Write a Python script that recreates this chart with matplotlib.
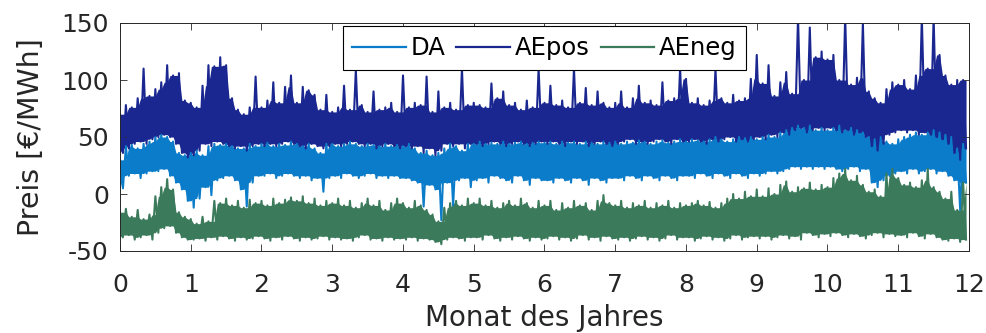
import numpy as np
import matplotlib
matplotlib.use("Agg")
import matplotlib.pyplot as plt

# ---- data: envelope values, 12 per month ----
aepos_hi = [70, 78, 76, 84, 110, 86, 92, 98, 113, 104, 106, 82,
            80, 76, 95, 113, 112, 120, 113, 84, 74, 70, 76, 103,
            76, 82, 98, 80, 94, 104, 80, 94, 91, 87, 74, 87,
            72, 76, 95, 74, 109, 78, 72, 90, 74, 76, 80, 72,
            104, 76, 80, 78, 103, 72, 90, 76, 80, 74, 110, 78,
            80, 78, 76, 97, 84, 90, 78, 80, 74, 82, 76, 110,
            80, 95, 78, 82, 76, 110, 80, 93, 78, 90, 80, 76,
            80, 90, 76, 84, 95, 80, 82, 78, 98, 82, 84, 110,
            101, 80, 84, 78, 82, 110, 84, 80, 87, 82, 84, 101,
            122, 97, 113, 86, 98, 107, 88, 155, 100, 146, 120, 125,
            118, 122, 100, 155, 96, 102, 150, 90, 84, 80, 92, 98,
            96, 100, 92, 104, 155, 110, 155, 122, 104, 96, 100, 100]
aepos_lo = [36, 40, 44, 46, 44, 48, 50, 52, 50, 44, 36, 32,
            34, 38, 44, 42, 46, 44, 42, 40, 42, 38, 42, 44,
            42, 44, 42, 44, 46, 44, 42, 40, 44, 42, 40, 42,
            44, 42, 44, 46, 44, 42, 44, 40, 42, 44, 42, 40,
            42, 40, 42, 36, 40, 34, 38, 44, 42, 44, 40, 44,
            44, 42, 44, 46, 44, 42, 44, 46, 44, 42, 44, 46,
            44, 46, 44, 42, 46, 44, 46, 42, 44, 46, 44, 42,
            44, 46, 48, 44, 46, 44, 46, 48, 46, 44, 48, 46,
            46, 48, 46, 44, 48, 46, 48, 50, 46, 48, 46, 48,
            50, 48, 52, 50, 54, 52, 56, 58, 54, 56, 58, 56,
            58, 56, 54, 56, 52, 54, 50, 42, 38, 44, 52, 54,
            56, 54, 56, 52, 54, 52, 50, 48, 44, 36, 30, 40]
da_hi = [30, 42, 43, 40, 44, 46, 50, 52, 50, 46, 36, 34,
         36, 38, 34, 42, 44, 43, 44, 42, 40, 40, 44, 42,
         44, 45, 42, 44, 43, 46, 44, 42, 44, 40, 36, 44,
         44, 42, 44, 46, 44, 42, 44, 43, 42, 44, 42, 43,
         42, 44, 40, 36, 38, 34, 36, 40, 44, 42, 38, 44,
         44, 46, 44, 45, 44, 46, 44, 45, 46, 44, 45, 46,
         45, 46, 44, 46, 45, 46, 44, 46, 45, 44, 46, 45,
         46, 44, 46, 45, 47, 46, 44, 46, 47, 45, 46, 48,
         46, 48, 47, 46, 48, 50, 48, 46, 48, 50, 49, 50,
         48, 50, 52, 50, 54, 56, 58, 60, 58, 60, 56, 58,
         56, 58, 60, 56, 58, 56, 54, 50, 48, 50, 46, 44,
         48, 50, 52, 54, 52, 54, 56, 54, 52, 50, 40, 44]
da_lo = [5, 16, 18, 14, 18, 20, 20, 22, 16, 10, 4, -6,
         -12, -4, 6, -1, 12, 14, 16, 12, 4, -11, 10, 16,
         16, 18, 14, 16, 18, 16, 14, 16, 12, 14, 2, 14,
         16, 14, 18, 16, 14, 16, 18, 14, 16, 14, 16, 14,
         14, 12, 10, -11, 8, 4, -23, 10, -10, 12, 14, 6,
         12, 14, 10, 16, 14, 12, 10, 16, 12, 8, 14, 12,
         12, 10, 14, 12, 10, 14, 12, 8, 14, 12, 10, 14,
         14, 12, 16, 14, 12, 16, 14, 12, 16, 14, 12, 16,
         16, 14, 18, 16, 14, 18, 16, 14, 18, 16, 14, 18,
         16, 18, 20, 18, 20, 22, 24, 22, 24, 22, 24, 22,
         24, 22, 20, 22, 24, 20, 22, 10, 6, 12, 16, 18,
         20, 18, 22, 18, 20, 22, 18, 20, 16, 12, -14, 10]
aeneg_hi = [-16, -13, -20, -14, -22, -18, -2, 6, 13, 4, -16, -20,
            -22, -26, -20, -24, -6, -8, -4, -10, -6, -12, -5, -8,
            -6, -10, -4, -8, -5, -3, -6, -2, -8, -4, -10, -6,
            -8, -4, -10, -6, -12, -8, -4, -10, -6, -14, -8, -4,
            -8, -12, -6, -10, -14, -18, -24, -12, -8, -6, -10, -4,
            -8, -4, -10, -6, -12, -8, -6, -10, -4, -8, -12, -6,
            -10, -6, -14, -8, -12, -6, -10, -8, -14, -6, -1, -8,
            -10, -6, -12, -8, -10, -6, -12, -8, -10, -6, -12, -8,
            -10, -8, -6, -10, -7, -12, -8, -4, 0, -4, 2, -2,
            4, -2, 5, 0, 8, 11, 2, 6, 5, 10, 4, 8,
            6, 14, 18, 22, 12, 16, 8, 2, 4, -2, 18, 22,
            14, 8, 10, 6, 12, 22, 6, 2, -4, 2, -14, 10]
aeneg_lo = [-38, -36, -40, -38, -36, -40, -34, -30, -28, -34, -38, -40,
            -40, -39, -41, -38, -40, -37, -39, -41, -38, -40, -39, -37,
            -39, -41, -38, -40, -37, -39, -41, -38, -40, -39, -37, -40,
            -38, -40, -39, -41, -38, -36, -40, -39, -41, -38, -40, -39,
            -40, -38, -41, -39, -40, -42, -44, -40, -38, -39, -41, -38,
            -38, -40, -36, -39, -41, -38, -40, -37, -39, -41, -38, -40,
            -39, -37, -40, -38, -41, -39, -36, -40, -38, -41, -37, -39,
            -40, -38, -41, -39, -37, -40, -38, -41, -39, -36, -40, -38,
            -38, -41, -39, -37, -40, -38, -41, -39, -36, -40, -38, -37,
            -39, -37, -40, -38, -36, -39, -37, -40, -34, -36, -38, -35,
            -37, -34, -36, -38, -35, -37, -39, -36, -34, -38, -35, -37,
            -36, -38, -34, -37, -39, -35, -38, -40, -41, -39, -42, -40]

series_names = ["DA", "AEpos", "AEneg"]
xtick_labels = [str(i) for i in range(13)]
ytick_labels = ["-50", "0", "50", "100", "150"]

colors = ["#0b7cc9", "#1b2790", "#3b7a5b"]
envelopes = [(da_hi, da_lo), (aepos_hi, aepos_lo), (aeneg_hi, aeneg_lo)]


def interleave(hi, lo):
    out = []
    for h, l in zip(hi, lo):
        out.extend([h, l])
    return np.array(out, dtype=float)


def core_band(hi, lo):
    # solid inner band: lowest neighbouring high / highest neighbouring low
    n = len(hi)
    top, bot = [], []
    for i in range(n):
        top.append(hi[i] if i == 0 else min(hi[i - 1], hi[i]))
        bot.append(max(lo[i - 1], lo[i]) if i > 0 else lo[i])
        top.append(min(hi[i], hi[i + 1]) if i + 1 < n else hi[i])
        bot.append(lo[i] if i + 1 >= n else max(lo[i], lo[i + 1]))
    top = np.array(top, dtype=float)
    bot = np.array(bot, dtype=float)
    return np.maximum(top, bot), bot


plt.rcParams['font.family'] = ['DejaVu Sans']
fig = plt.figure(figsize=(9.87, 3.33), dpi=100)
ax = fig.add_axes([120/987, 1 - 251/333, 849/987, 228/333])

for name, (hi, lo), c in zip(series_names, envelopes, colors):
    y = interleave(hi, lo)
    x = np.arange(len(y)) / 24.0
    top, bot = core_band(hi, lo)
    ax.fill_between(x, bot, top, color=c, lw=0)
    ax.plot(x, y, color=c, lw=1.5, label=name)

ax.set_xlim(0, 12)
ax.set_ylim(-50, 150)
ax.set_xticks(range(13))
ax.set_xticklabels(xtick_labels)
ax.set_yticks([-50, 0, 50, 100, 150])
ax.set_yticklabels(ytick_labels)
txtc = "#262626"
ax.tick_params(direction='in', length=5, width=0.6, top=True, right=True,
               labelsize=18, colors="#262626", labelcolor=txtc)
ax.tick_params(axis='x', pad=16)
ax.tick_params(axis='y', pad=8)
for s in ax.spines.values():
    s.set_color("#262626")
    s.set_linewidth(0.7)
ax.set_ylabel("Preis [€/MWh]", fontsize=20.5, color=txtc)
ax.set_xlabel("Monat des Jahres", fontsize=20, color=txtc)
ax.yaxis.set_label_coords(-0.088, 0.5)
ax.xaxis.set_label_coords(0.5, -0.232)

leg = ax.legend(loc='upper center', bbox_to_anchor=(0.5, 0.985), ncol=3,
                fontsize=17.5, frameon=True, fancybox=False, framealpha=1,
                edgecolor='black', handlelength=2.2, handletextpad=0.2,
                columnspacing=0.45, borderpad=0.4, borderaxespad=0.0)
leg.get_frame().set_linewidth(0.8)
for line in leg.get_lines():
    line.set_linewidth(1.6)

fig.savefig("out.png", dpi=100)
